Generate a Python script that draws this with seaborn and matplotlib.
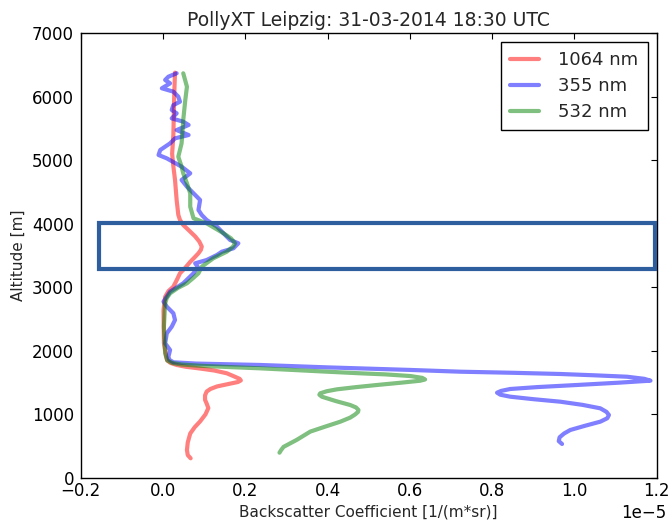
import matplotlib
matplotlib.use("Agg")
import matplotlib.pyplot as plt
from matplotlib.patches import Rectangle
from matplotlib.lines import Line2D
import seaborn as sns

# Backscatter profiles (values in units of 1e-5 1/(m*sr)), altitude in m
alt_1064 = [310, 360, 440, 560, 700, 800, 890, 1000, 1100, 1170, 1230, 1300,
            1360, 1400, 1440, 1480, 1510, 1535, 1560, 1600, 1647, 1690, 1720,
            1750, 1778, 1810, 1850, 1900, 2120, 2640, 2850, 2940, 3010, 3110,
            3220, 3300, 3400, 3480, 3535, 3590, 3640, 3720, 3800, 3900, 3980,
            4060, 4140, 4370, 4690, 4900, 5100, 5400, 5700, 6000, 6200, 6376]
bsc_1064 = [0.067, 0.060, 0.058, 0.060, 0.066, 0.077, 0.090, 0.103, 0.110,
            0.106, 0.102, 0.102, 0.106, 0.115, 0.131, 0.160, 0.182, 0.189,
            0.186, 0.172, 0.155, 0.125, 0.092, 0.055, 0.033, 0.018, 0.010,
            0.008, 0.002, 0.001, 0.005, 0.013, 0.025, 0.033, 0.041, 0.053,
            0.066, 0.078, 0.086, 0.092, 0.094, 0.088, 0.078, 0.062, 0.049,
            0.041, 0.037, 0.033, 0.029, 0.025, 0.022, 0.025, 0.026, 0.027,
            0.028, 0.029]

alt_355 = [535, 580, 640, 700, 755, 820, 886, 940, 991, 1040, 1096, 1150, 1200,
           1240, 1279, 1310, 1342, 1370, 1400, 1430, 1463, 1500, 1531, 1560,
           1593, 1615, 1636, 1655, 1672, 1700, 1740, 1778, 1800, 1820, 1860,
           1909, 2013, 2119, 2276, 2380, 2485, 2591, 2695, 2774, 2931, 3063,
           3220, 3324, 3377, 3429, 3508, 3560, 3613, 3692, 3744, 3822, 3953,
           4058, 4137, 4216, 4373, 4478, 4583, 4688, 4793, 4897, 5028, 5081,
           5159, 5264, 5343, 5395, 5473, 5553, 5605, 5657, 5736, 5789, 5866,
           5919, 5998, 6077, 6130, 6208, 6261, 6313, 6366]
bsc_355 = [0.970, 0.962, 0.964, 0.975, 0.990, 1.025, 1.063, 1.080, 1.084,
           1.078, 1.063, 1.020, 0.966, 0.900, 0.844, 0.820, 0.812, 0.822,
           0.844, 0.910, 1.006, 1.110, 1.185, 1.170, 1.128, 1.050, 0.966,
           0.850, 0.723, 0.600, 0.400, 0.236, 0.080, 0.025, 0.015, 0.013,
           0.017, 0.005, 0.009, 0.021, 0.029, 0.025, 0.009, 0.001, 0.017,
           0.049, 0.074, 0.084, 0.078, 0.106, 0.131, 0.143, 0.171, 0.183,
           0.163, 0.151, 0.131, 0.106, 0.094, 0.086, 0.090, 0.074, 0.058,
           0.045, 0.066, 0.045, 0.009, -0.011, -0.007, 0.017, 0.029, 0.062,
           0.033, 0.062, 0.049, 0.021, 0.033, 0.021, 0.025, 0.041, 0.037,
           0.025, -0.003, 0.017, 0.005, 0.013, 0.033]

alt_532 = [398, 440, 490, 600, 730, 810, 886, 950, 1000, 1040, 1070, 1110, 1148,
           1210, 1279, 1310, 1332, 1365, 1395, 1430, 1463, 1500, 1530, 1550,
           1575, 1604, 1630, 1647, 1675, 1699, 1725, 1745, 1765, 1785, 1810,
           1850, 1960, 2380, 2748, 2830, 2905, 2990, 3063, 3150, 3220, 3324,
           3456, 3560, 3640, 3692, 3770, 3849, 4006, 4085, 4268, 4478, 4636,
           4793, 4897, 5054, 5265, 5526, 5631, 5946, 6155, 6366]
bsc_532 = [0.283, 0.287, 0.293, 0.325, 0.358, 0.395, 0.431, 0.455, 0.467,
           0.474, 0.475, 0.469, 0.455, 0.420, 0.386, 0.380, 0.382, 0.398,
           0.423, 0.470, 0.520, 0.580, 0.625, 0.637, 0.630, 0.601, 0.540,
           0.479, 0.390, 0.317, 0.236, 0.160, 0.090, 0.045, 0.022, 0.010,
           0.005, 0.002, 0.005, 0.009, 0.017, 0.036, 0.058, 0.074, 0.086,
           0.094, 0.122, 0.155, 0.170, 0.175, 0.165, 0.147, 0.106, 0.074,
           0.066, 0.066, 0.058, 0.049, 0.045, 0.037, 0.045, 0.048, 0.049,
           0.054, 0.058, 0.049]

labels = ["1064 nm", "355 nm", "532 nm"]
colors = ["#ff0000", "#0000ff", "#008000"]
scale = 1e-5

sns.set_style("white")
plt.rcParams.update({
    "font.family": ["DejaVu Sans"],
    "font.size": 12,
    "xtick.direction": "in",
    "ytick.direction": "in",
    "xtick.top": True,
    "ytick.right": True,
    "xtick.major.size": 4,
    "ytick.major.size": 4,
    "xtick.major.width": 0.8,
    "ytick.major.width": 0.8,
    "xtick.labelsize": 12,
    "ytick.labelsize": 12,
    "axes.edgecolor": "black",
    "axes.linewidth": 1.0,
})

fig = plt.figure(figsize=(6.68, 5.22), dpi=100)
ax = fig.add_axes([0.121, 0.0843, 0.862, 0.8525])

profiles = [(bsc_1064, alt_1064), (bsc_355, alt_355), (bsc_532, alt_532)]
for (bsc, alt), lab, col in zip(profiles, labels, colors):
    sns.lineplot(x=[v * scale for v in bsc], y=alt, sort=False, estimator=None,
                 color=col, alpha=0.5, linewidth=3, ax=ax, legend=False)

# Highlighted layer
ax.add_patch(Rectangle((-0.155 * scale, 3285), 1.35 * scale, 720,
                       fill=False, edgecolor="#2f5e9e", linewidth=3, zorder=5))

ax.set_xlim(-0.2 * scale, 1.2 * scale)
ax.set_ylim(0, 7000)
ax.set_xticks([v * scale for v in [-0.2, 0.0, 0.2, 0.4, 0.6, 0.8, 1.0, 1.2]])
ax.set_yticks(range(0, 7001, 1000))
ax.tick_params(colors="black", labelcolor="black")
ax.tick_params(axis="x", pad=3)
ax.tick_params(axis="y", pad=5)

ax.set_title("PollyXT Leipzig: 31-03-2014 18:30 UTC", fontsize=13.5, pad=5)
ax.set_xlabel("Backscatter Coefficient [1/(m*sr)]", fontsize=11, labelpad=3)
ax.set_ylabel("Altitude [m]", fontsize=11)

# Scale factor label kept inside the figure, right-aligned under the axis end
offset = ax.xaxis.get_offset_text()
offset.set_fontsize(12)
offset.set_horizontalalignment("left")
offset.set_x(0.939)

handles = [Line2D([0], [0], color=c, alpha=0.5, linewidth=3) for c in colors]
leg = ax.legend(handles, labels, loc="upper right", fontsize=13,
                frameon=True, fancybox=False, framealpha=1,
                edgecolor="black", handlelength=1.6, handletextpad=1.1,
                borderpad=0.5, labelspacing=0.45, borderaxespad=0.5)
leg.get_frame().set_linewidth(1.0)

fig.savefig("out.png", dpi=100)
